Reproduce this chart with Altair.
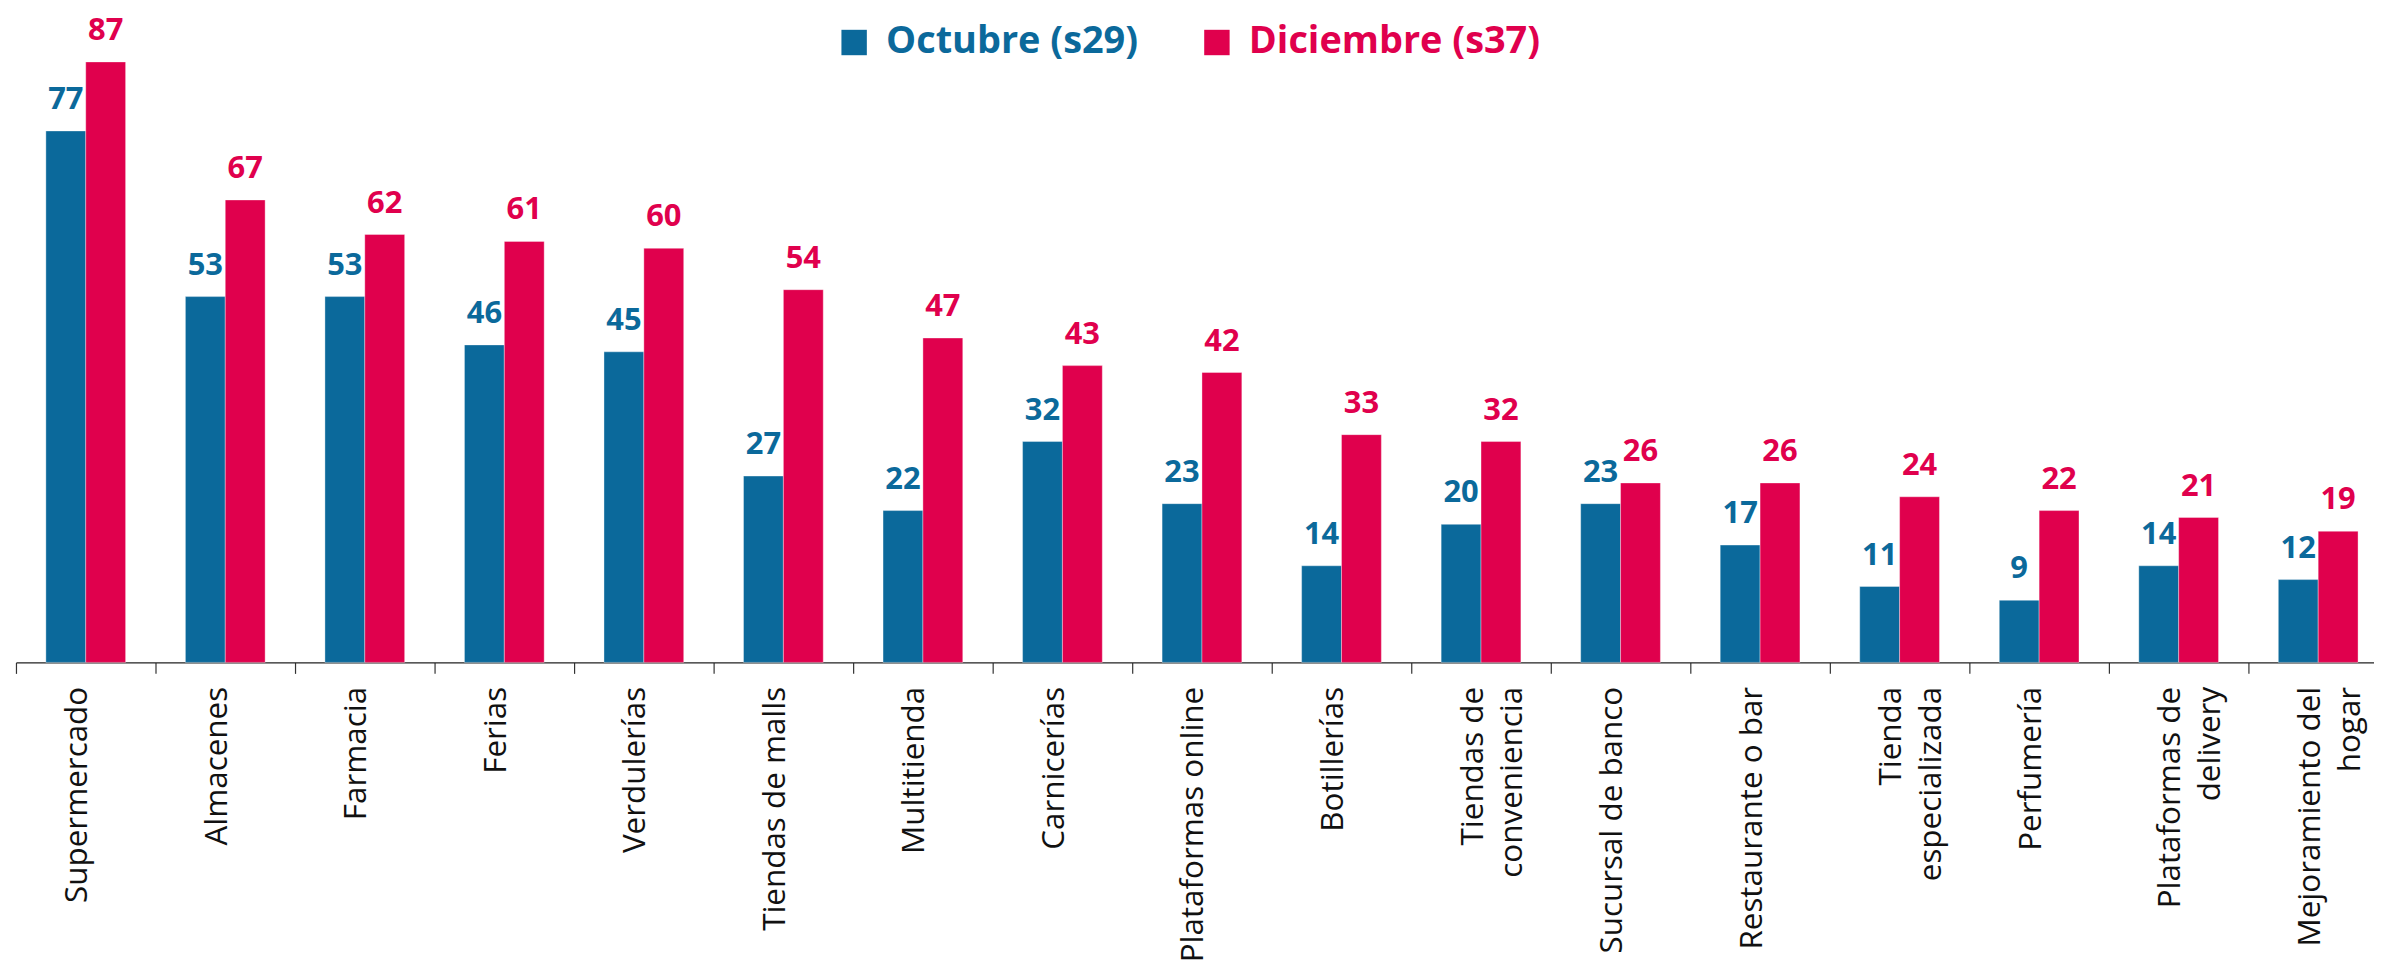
import altair as alt
import pandas as pd

categories = [
    "Supermercado", "Almacenes", "Farmacia", "Ferias", "Verdulerías",
    "Tiendas de malls", "Multitienda", "Carnicerías", "Plataformas online",
    "Botillerías", "Tiendas de|conveniencia", "Sucursal de banco",
    "Restaurante o bar", "Tienda|especializada", "Perfumería",
    "Plataformas de|delivery", "Mejoramiento del|hogar",
]
octubre = [77, 53, 53, 46, 45, 27, 22, 32, 23, 14, 20, 23, 17, 11, 9, 14, 12]
diciembre = [87, 67, 62, 61, 60, 54, 47, 43, 42, 33, 32, 26, 26, 24, 22, 21, 19]
series = ["Octubre (s29)", "Diciembre (s37)"]
colors = ["#0B699B", "#E0004D"]

rows = []
for c, o, d in zip(categories, octubre, diciembre):
    rows.append({"cat": c, "serie": series[0], "v": o})
    rows.append({"cat": c, "serie": series[1], "v": d})
df = pd.DataFrame(rows)

FONT = "Open Sans"

x = alt.X(
    "cat:N", sort=categories, title=None,
    scale=alt.Scale(paddingInner=0, paddingOuter=0),
    axis=alt.Axis(
        labelAngle=-90, labelBaseline="middle", labelAlign="right",
        labelOffset=-8, labelPadding=13,
        labelFont=FONT, labelFontSize=31.5, labelColor="#111",
        labelExpr="split(datum.label, '|')", labelLineHeight=40,
        tickSize=11, tickColor="#333", tickWidth=1.2,
        tickBand="extent", domainColor="#222", domainWidth=1.4,
        labelLimit=0, labelOverlap=False,
    ),
)
xoff = alt.XOffset("serie:N", sort=series,
                   scale=alt.Scale(paddingOuter=0.75, paddingInner=0))
y = alt.Y("v:Q", axis=None, scale=alt.Scale(domain=[0, 94], nice=False))
color_scale = alt.Scale(domain=series, range=colors)

label_color = alt.ExprRef(
    expr=f"datum.value == '{series[0]}' ? '{colors[0]}' : '{colors[1]}'"
)

bars = alt.Chart(df).mark_bar(stroke="white", strokeWidth=0.6, strokeOpacity=0.6).encode(
    x=x, xOffset=xoff, y=y,
    color=alt.Color(
        "serie:N", scale=color_scale, sort=series,
        legend=alt.Legend(
            title=None, orient="none", direction="horizontal",
            legendX=822, legendY=10,
            symbolType="square", symbolSize=650, symbolStrokeWidth=0,
            labelFont=FONT, labelFontSize=38, labelFontWeight="bold",
            labelColor=label_color,
            labelOffset=13, columnPadding=60, labelLimit=0,
        ),
    ),
)

labels = alt.Chart(df).mark_text(
    font=FONT, fontSize=31, fontWeight="bold", baseline="alphabetic", dy=-22
).encode(
    x=x, xOffset=xoff, y=y, text="v:Q",
    color=alt.Color("serie:N", scale=color_scale, sort=series, legend=None),
)

chart = alt.layer(bars, labels).properties(
    width=2380, height=651,
    autosize=alt.AutoSizeParams(type="none"),
    padding={"left": 8, "top": 4, "right": -14, "bottom": 307},
).configure_view(stroke=None)

chart.save("out.html", embed_options={"renderer": "svg", "actions": False})
